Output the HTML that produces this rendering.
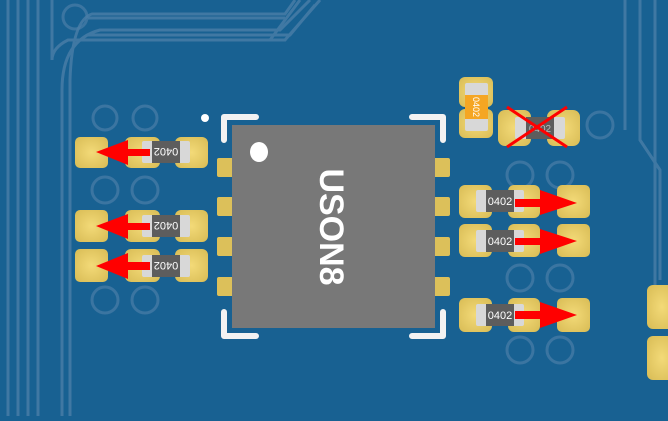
<!DOCTYPE html><html><head><style>html,body{margin:0;padding:0;background:#186192;overflow:hidden}</style></head><body>
<svg width="668" height="416" viewBox="0 0 668 416" xmlns="http://www.w3.org/2000/svg" font-family="Liberation Sans, sans-serif">
<defs>
<radialGradient id="pad" cx="50%" cy="50%" r="60%"><stop offset="0" stop-color="#f3da78"/><stop offset="1" stop-color="#dcc05a"/></radialGradient>
<g id="res"><rect x="0" y="0" width="48" height="22" rx="2" fill="#d8d8d8"/><rect x="10" y="0" width="28" height="22" fill="#5d5d5d"/></g>
</defs>
<rect width="668" height="416" fill="#186192"/>
<g fill="none" stroke="#4a7ea8" stroke-width="3" opacity="0.8">
<path d="M8 0V416M18 0V416M28 0V416M38 0V416"/>
<path d="M52 0V60Q52 48 68 40H270L300 0"/>
<path d="M62 416V90Q62 40 100 30H280L310 0"/>
<path d="M70 416V80Q72 20 92 14H285L295 0"/>
<path d="M88 35H280M88 18H285"/>
<path d="M110 40H285L320 0M112 35H290L315 5"/>
<path d="M655 0V290M640 0V140L660 170V280"/>
<path d="M625 0V130"/>
</g>
<g fill="none" stroke="#4a7ea8" stroke-width="3" opacity="0.7">
<circle cx="75" cy="17" r="12"/>
<circle cx="105" cy="118" r="12"/><circle cx="145" cy="118" r="12"/><circle cx="105" cy="190" r="13"/><circle cx="145" cy="190" r="13"/>
<circle cx="105" cy="300" r="13"/><circle cx="145" cy="300" r="13"/>
<circle cx="520" cy="175" r="13"/><circle cx="560" cy="175" r="13"/><circle cx="600" cy="125" r="13"/>
<circle cx="520" cy="278" r="13"/><circle cx="560" cy="278" r="13"/><circle cx="520" cy="350" r="13"/><circle cx="560" cy="350" r="13"/>
</g>
<g fill="url(#pad)">
<rect x="75" y="137" width="33" height="31" rx="5"/><rect x="125" y="137" width="35" height="31" rx="6"/><rect x="175" y="137" width="33" height="31" rx="6"/>
<rect x="75" y="210" width="33" height="32" rx="5"/><rect x="125" y="210" width="35" height="32" rx="6"/><rect x="175" y="210" width="33" height="32" rx="6"/>
<rect x="75" y="249" width="33" height="33" rx="5"/><rect x="125" y="249" width="35" height="33" rx="6"/><rect x="175" y="249" width="33" height="33" rx="6"/>
<rect x="459" y="185" width="33" height="33" rx="6"/><rect x="508" y="185" width="32" height="33" rx="6"/><rect x="557" y="185" width="33" height="33" rx="5"/>
<rect x="459" y="224" width="33" height="33" rx="6"/><rect x="508" y="224" width="32" height="33" rx="6"/><rect x="557" y="224" width="33" height="33" rx="5"/>
<rect x="459" y="298" width="33" height="34" rx="6"/><rect x="508" y="298" width="32" height="34" rx="6"/><rect x="557" y="298" width="33" height="34" rx="5"/>
<rect x="459" y="77" width="34" height="30" rx="6"/><rect x="459" y="109" width="34" height="29" rx="6"/>
<rect x="498" y="110" width="33" height="36" rx="7"/><rect x="547" y="110" width="33" height="36" rx="7"/>
<rect x="647" y="285" width="30" height="44" rx="6"/><rect x="647" y="336" width="30" height="44" rx="6"/>
</g>
<g font-size="11" fill="#fff" text-anchor="middle">
<g transform="translate(142,141)"><use href="#res"/><text transform="translate(24,11) rotate(180)" dy="4">0402</text></g>
<g transform="translate(142,215)"><use href="#res"/><text transform="translate(24,11) rotate(180)" dy="4">0402</text></g>
<g transform="translate(142,255)"><use href="#res"/><text transform="translate(24,11) rotate(180)" dy="4">0402</text></g>
<g transform="translate(476,190)"><use href="#res"/><text x="24" y="15">0402</text></g>
<g transform="translate(476,230)"><use href="#res"/><text x="24" y="15">0402</text></g>
<g transform="translate(476,304)"><use href="#res"/><text x="24" y="15">0402</text></g>
<g transform="translate(465,83)"><rect width="23" height="48" rx="2" fill="#d8d8d8"/><rect y="12" width="23" height="24" fill="#f5a623"/><text transform="translate(11.5,24) rotate(90)" dy="3.5" font-size="9">0402</text></g>
<g transform="translate(515,117)"><rect width="50" height="22" rx="2" fill="#d8d8d8"/><rect x="11" width="28" height="22" fill="#5d5d5d"/><text x="25" y="15" font-size="10" fill="#bbb">0402</text></g>
</g>
<g stroke="#ff0000" stroke-width="3"><path d="M507 107L567 147M567 107L507 147"/></g>
<g fill="#dcc05a">
<rect x="217" y="158" width="17" height="19" rx="2"/><rect x="217" y="197" width="17" height="19" rx="2"/><rect x="217" y="237" width="17" height="19" rx="2"/><rect x="217" y="277" width="17" height="19" rx="2"/>
<rect x="433" y="158" width="17" height="19" rx="2"/><rect x="433" y="197" width="17" height="19" rx="2"/><rect x="433" y="237" width="17" height="19" rx="2"/><rect x="433" y="277" width="17" height="19" rx="2"/>
</g>
<rect x="232" y="125" width="203" height="203" fill="#787878"/>
<g fill="none" stroke="#f2f2f2" stroke-width="6" stroke-linecap="round" stroke-linejoin="round">
<path d="M224 140V117H256"/><path d="M412 117H443V140"/><path d="M224 312V336H256"/><path d="M412 336H443V312"/>
</g>
<ellipse cx="259" cy="152" rx="9" ry="10" fill="#fff"/>
<circle cx="205" cy="118" r="4" fill="#fff"/>
<text transform="translate(332,227) rotate(90)" text-anchor="middle" font-size="34" font-weight="bold" fill="#fff" dy="12">USON8</text>
<g fill="#ff0000">
<path d="M150 149H128V140L96 152L128 165V156H150Z"/>
<path d="M150 223H128V214L96 226L128 239V230H150Z"/>
<path d="M150 262H128V253L96 266L128 279V270H150Z"/>
<path d="M515 199H540V190L577 203L540 215V207H515Z"/>
<path d="M515 238H540V229L577 241L540 254V245H515Z"/>
<path d="M515 311H540V302L577 315L540 328V319H515Z"/>
</g>
</svg>
</body></html>
